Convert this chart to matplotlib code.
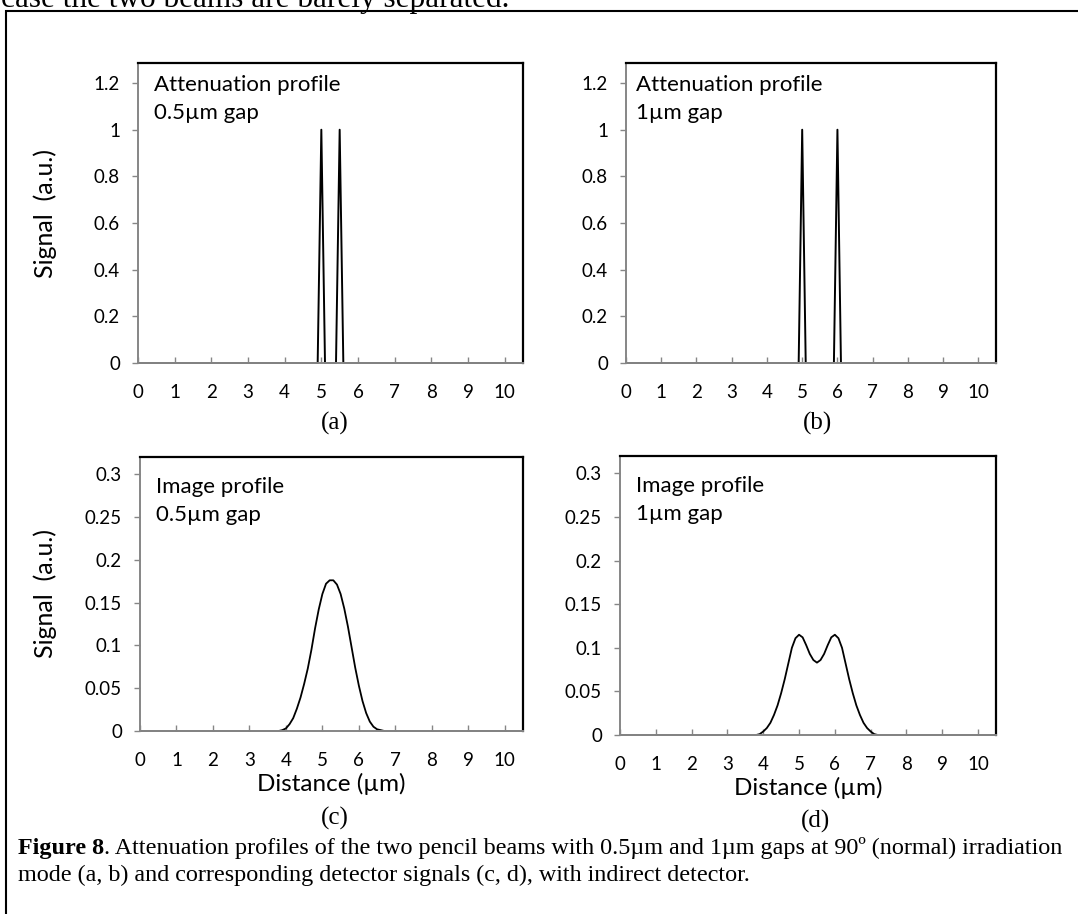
import matplotlib
matplotlib.use("Agg")
import matplotlib.pyplot as plt
from matplotlib.patches import Rectangle

W, H = 1078, 914
AXIS_GREY = "#868686"
SANS = "Lato"
SERIF = "Liberation Serif"

# (a), (b): attenuation profiles of the two pencil beams
att_x_05 = [0, 4.9, 5.0, 5.1, 5.4, 5.5, 5.6, 10.5]
att_y_05 = [0, 0, 1, 0, 0, 1, 0, 0]
att_x_10 = [0, 4.9, 5.0, 5.1, 5.9, 6.0, 6.1, 10.5]
att_y_10 = [0, 0, 1, 0, 0, 1, 0, 0]

# (c), (d): detector image profiles
img_x_05 = [0, 3.8, 3.9, 4.0, 4.1, 4.2, 4.3, 4.4, 4.5, 4.6, 4.7, 4.8, 4.9,
            5.0, 5.1, 5.2, 5.3, 5.4, 5.5, 5.6, 5.7, 5.8, 5.9, 6.0, 6.1,
            6.2, 6.3, 6.4, 6.5, 6.6, 6.7, 10.5]
img_y_05 = [0, 0.000, 0.001, 0.003, 0.008, 0.015, 0.026, 0.039, 0.055,
            0.073, 0.095, 0.120, 0.142, 0.160, 0.172, 0.176, 0.176, 0.171,
            0.160, 0.143, 0.122, 0.098, 0.074, 0.053, 0.035, 0.021, 0.011,
            0.005, 0.002, 0.001, 0.000, 0]
img_x_10 = [0, 3.8, 3.9, 4.0, 4.1, 4.2, 4.3, 4.4, 4.5, 4.6, 4.7, 4.8, 4.9,
            5.0, 5.1, 5.2, 5.3, 5.4, 5.5, 5.6, 5.7, 5.8, 5.9, 6.0, 6.1,
            6.2, 6.3, 6.4, 6.5, 6.6, 6.7, 6.8, 6.9, 7.0, 7.1, 7.2, 10.5]
img_y_10 = [0, 0.000, 0.001, 0.004, 0.008, 0.014, 0.023, 0.034, 0.048,
            0.064, 0.082, 0.100, 0.111, 0.115, 0.112, 0.103, 0.093, 0.086,
            0.083, 0.086, 0.093, 0.103, 0.112, 0.115, 0.111, 0.100, 0.082,
            0.064, 0.048, 0.034, 0.023, 0.014, 0.008, 0.004, 0.001, 0.000, 0]

x_ticks = [0, 1, 2, 3, 4, 5, 6, 7, 8, 9, 10]
att_ticks = [0, 0.2, 0.4, 0.6, 0.8, 1, 1.2]
att_labels = ["0", "0.2", "0.4", "0.6", "0.8", "1", "1.2"]
img_ticks = [0, 0.05, 0.1, 0.15, 0.2, 0.25, 0.3]
img_labels = ["0", "0.05", "0.1", "0.15", "0.2", "0.25", "0.3"]


def add_axes_px(fig, left, top, right, bottom):
    return fig.add_axes([left / W, 1 - bottom / H, (right - left) / W, (bottom - top) / H])


def style(ax, ymax, yticks, ylabels):
    ax.set_xlim(0, 10.5)
    ax.set_ylim(0, ymax)
    ax.set_xticks(x_ticks)
    ax.set_yticks(yticks)
    ax.set_yticklabels(ylabels)
    for side in ("top", "right"):
        ax.spines[side].set_color("black")
        ax.spines[side].set_linewidth(1.6)
    for side in ("left", "bottom"):
        ax.spines[side].set_color(AXIS_GREY)
        ax.spines[side].set_linewidth(1.4)
    ax.tick_params(axis="x", direction="in", length=4, width=1, color=AXIS_GREY, pad=15)
    ax.tick_params(axis="y", direction="out", length=4, width=1, color=AXIS_GREY, pad=9)
    for lab in ax.get_xticklabels() + ax.get_yticklabels():
        lab.set_fontfamily(SANS)
        lab.set_fontsize(13.5)


def note(ax, text, dx, dy):
    ax.annotate(text, xy=(0, 1), xycoords="axes fraction", xytext=(dx, -dy),
                textcoords="offset pixels", ha="left", va="top",
                fontfamily=SANS, fontsize=16, linespacing=1.5)


fig = plt.figure(figsize=(W / 100, H / 100), dpi=100)

ax_a = add_axes_px(fig, 138, 63, 523, 363)
ax_b = add_axes_px(fig, 626, 63, 996, 363)
ax_c = add_axes_px(fig, 140, 457, 523, 731)
ax_d = add_axes_px(fig, 620, 456, 996, 735)

ax_a.plot(att_x_05, att_y_05, color="black", lw=1.4, clip_on=False)
ax_b.plot(att_x_10, att_y_10, color="black", lw=1.4, clip_on=False)
ax_c.plot(img_x_05, img_y_05, color="black", lw=1.3, clip_on=False)
ax_d.plot(img_x_10, img_y_10, color="black", lw=1.3, clip_on=False)

style(ax_a, 1.286, att_ticks, att_labels)
style(ax_b, 1.286, att_ticks, att_labels)
style(ax_c, 0.32, img_ticks, img_labels)
style(ax_d, 0.32, img_ticks, img_labels)

note(ax_a, "Attenuation profile\n0.5µm gap", 16, 12)
note(ax_b, "Attenuation profile\n1µm gap", 10, 12)
note(ax_c, "Image profile\n0.5µm gap", 16, 20)
note(ax_d, "Image profile\n1µm gap", 16, 20)

for ax in (ax_a, ax_c):
    ax.set_ylabel("Signal  (a.u.)", fontfamily=SANS, fontsize=18)
ax_a.yaxis.set_label_coords((57 - 138) / 385, 0.5)
ax_c.yaxis.set_label_coords((57 - 140) / 383, 0.5)

for ax in (ax_c, ax_d):
    ax.set_xlabel("Distance (µm)", fontfamily=SANS, fontsize=17.5, labelpad=3)

# panel letters under each chart
for x, y, s in [(335, 423, "(a)"), (818, 423, "(b)"), (335, 818, "(c)"), (815, 821, "(d)")]:
    fig.text(x / W, 1 - y / H, s, ha="center", va="center", fontfamily=SERIF, fontsize=18)

# frame around the figure block
fig.add_artist(Rectangle((6 / W, -0.05), 1.2, 1.05 - 11 / H, transform=fig.transFigure,
                         fill=False, edgecolor="black", lw=1.5))

# last line of the preceding paragraph
fig.text(1 / W, 1 - 7 / H, "case the two beams are barely separated.", ha="left",
         va="baseline", fontfamily=SERIF, fontsize=22.5)

# caption
cap = fig.text(18 / W, 1 - 859 / H, "Figure 8", ha="left", va="bottom",
               fontfamily=SERIF, fontsize=17.4, fontweight="bold")
rest = (". Attenuation profiles of the two pencil beams with 0.5µm and 1µm gaps at "
        "90º (normal) irradiation")
fig.add_artist(plt.Annotation(rest, xy=(1, 0), xycoords=cap, ha="left", va="bottom",
                              fontfamily=SERIF, fontsize=17.4))
fig.text(18 / W, 1 - 886 / H,
         "mode (a, b) and corresponding detector signals (c, d), with indirect detector.",
         ha="left", va="bottom", fontfamily=SERIF, fontsize=17.4)

fig.savefig("out.png", dpi=100)
